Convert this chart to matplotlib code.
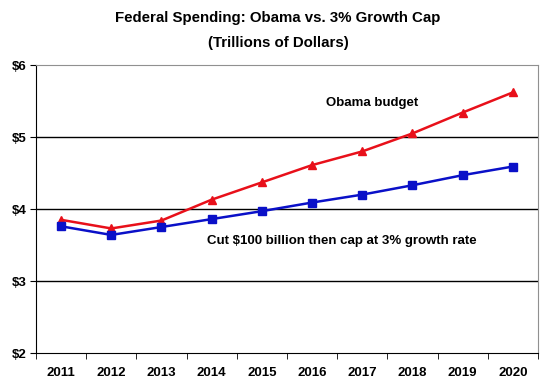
import matplotlib
matplotlib.use("Agg")
import matplotlib.pyplot as plt
import numpy as np

plt.rcParams['font.family'] = ['Liberation Sans', 'DejaVu Sans']

years = ['2011', '2012', '2013', '2014', '2015', '2016', '2017', '2018', '2019', '2020']
obama = [3.85, 3.73, 3.84, 4.13, 4.37, 4.61, 4.80, 5.05, 5.34, 5.62]
capped = [3.76, 3.64, 3.75, 3.86, 3.97, 4.09, 4.20, 4.33, 4.47, 4.59]
y_ticks = [2, 3, 4, 5, 6]
y_labels = ['$2', '$3', '$4', '$5', '$6']

fig = plt.figure(figsize=(5.56, 3.78), dpi=100)
ax = fig.add_axes([0.0647, 0.0661, 0.9029, 0.7619])

x = np.arange(len(years))
ax.plot(x, obama, color='#e8101a', lw=1.8, marker='^', ms=5.5, zorder=3)
ax.plot(x, capped, color='#0a10c8', lw=1.8, marker='s', ms=5.5, zorder=3)

ax.set_xlim(-0.5, len(years) - 0.5)
ax.set_ylim(2, 6)
ax.set_yticks(y_ticks)
ax.set_yticklabels(y_labels)
ax.set_xticks(x)
ax.set_xticklabels(years)
ax.set_xticks(np.arange(-0.5, len(years)), minor=True)
ax.tick_params(axis='x', which='major', length=0, pad=10)
ax.tick_params(axis='x', which='minor', length=4, direction='out', color='black')
ax.tick_params(axis='y', length=4, direction='out', pad=3)
for lab in ax.get_xticklabels() + ax.get_yticklabels():
    lab.set_fontweight('bold')
    lab.set_fontsize(9.5)

for v in [3, 4, 5]:
    ax.axhline(v, color='black', lw=1, zorder=1)

ax.spines['top'].set_color('#909090')
ax.spines['right'].set_color('#909090')
ax.spines['left'].set_color('black')
ax.spines['bottom'].set_color('black')

ax.text(6.2, 5.47, 'Obama budget', fontsize=9.5, fontweight='bold', ha='center', va='center')
ax.text(2.9, 3.55, 'Cut $100 billion then cap at 3% growth rate', fontsize=9.5,
        fontweight='bold', ha='left', va='center')

fig.text(0.5, 0.952, 'Federal Spending: Obama vs. 3% Growth Cap',
         ha='center', va='center', fontsize=10.8, fontweight='bold')
fig.text(0.5, 0.886, '(Trillions of Dollars)',
         ha='center', va='center', fontsize=10.8, fontweight='bold')

fig.savefig('out.png', dpi=100)
